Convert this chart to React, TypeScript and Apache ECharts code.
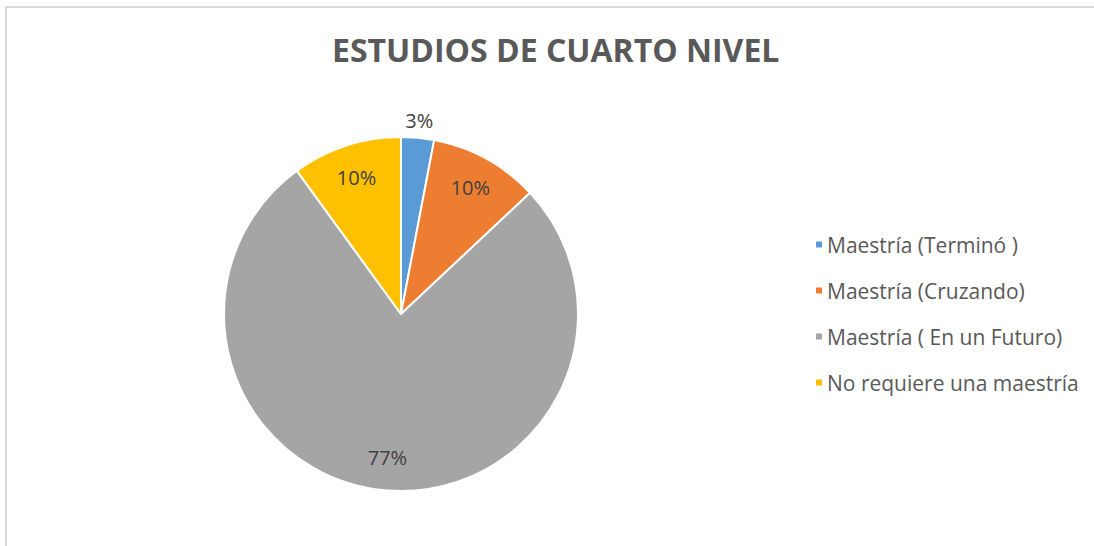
import React, { useEffect, useRef } from "react";
import * as echarts from "echarts";

const title = "ESTUDIOS DE CUARTO NIVEL";
const categories = [
  "Maestría (Terminó )",
  "Maestría (Cruzando)",
  "Maestría ( En un Futuro)",
  "No requiere una maestría",
];
const values = [3, 10, 77, 10];
const colors = ["#5B9BD5", "#ED7D31", "#A5A5A5", "#FFC000"];
const insideLabel = [false, true, true, true];

const FONT = "'Open Sans', 'Noto Sans', sans-serif";

export default function App() {
  const ref = useRef<HTMLDivElement>(null);
  useEffect(() => {
    if (!ref.current) return;
    const chart = echarts.init(ref.current, undefined, { renderer: "svg" });
    const center = [401, 314];
    const base = categories.map((name, i) => ({ name, value: values[i] }));
    const lbl = { fontFamily: FONT, fontSize: 20, color: "#404040" };
    chart.setOption({
      animation: false,
      backgroundColor: "#ffffff",
      title: {
        text: title,
        left: 327,
        top: 28,
        textStyle: { fontFamily: FONT, fontSize: 32, fontWeight: "bold", color: "#595959" },
      },
      legend: {
        orient: "vertical",
        left: 809,
        top: 229,
        icon: "rect",
        itemWidth: 8,
        itemHeight: 8,
        itemGap: 25,
        data: categories.map((n, i) => ({ name: n, itemStyle: { color: colors[i] } })),
        textStyle: { fontFamily: FONT, fontSize: 21, color: "#595959", padding: [0, 0, 0, -1] },
      },
      graphic: [
        {
          type: "rect",
          shape: { x: 6, y: 7, width: 1100, height: 560 },
          style: { fill: "none", stroke: "#d9d9d9", lineWidth: 2 },
          silent: true,
        },
      ],
      series: [
        {
          type: "pie",
          center,
          radius: 177,
          startAngle: 90,
          clockwise: true,
          silent: true,
          label: { show: false },
          labelLine: { show: false },
          itemStyle: { borderColor: "#ffffff", borderWidth: 2 },
          data: base.map((d, i) => ({ ...d, itemStyle: { color: colors[i] } })),
        },
        {
          type: "pie",
          center,
          radius: [112, 170],
          startAngle: 90,
          clockwise: true,
          silent: true,
          labelLine: { show: false },
          itemStyle: { color: "rgba(0,0,0,0)" },
          data: base.map((d, i) => ({
            ...d,
            label: { show: insideLabel[i], position: "inside", formatter: "{c}%", ...lbl },
          })),
        },
        {
          type: "pie",
          center,
          radius: [176, 206],
          startAngle: 90,
          clockwise: true,
          silent: true,
          labelLine: { show: false },
          itemStyle: { color: "rgba(0,0,0,0)" },
          data: base.map((d, i) => ({
            ...d,
            label: { show: !insideLabel[i], position: "inside", formatter: "{c}%", ...lbl },
          })),
        },
      ],
    });
    return () => chart.dispose();
  }, []);
  return (
    <div
      ref={ref}
      style={{ position: "fixed", left: 0, top: 0, width: 1094, height: 546 }}
    />
  );
}
